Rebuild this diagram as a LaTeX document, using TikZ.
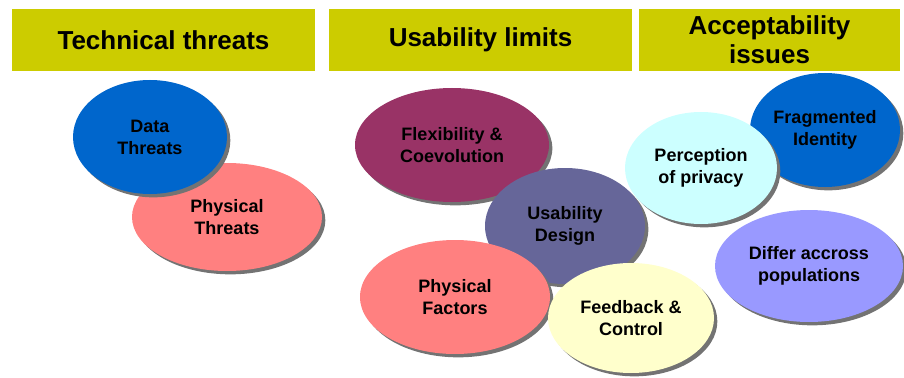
\documentclass[tikz,border=0pt]{standalone}
\usepackage{fontspec}
\setmainfont{Liberation Sans}
\usetikzlibrary{shapes.geometric,shadows}
\definecolor{barolive}{HTML}{CCCC00}
\definecolor{bblue}{HTML}{0066CC}
\definecolor{bsalmon}{HTML}{FF8080}
\definecolor{bplum}{HTML}{993366}
\definecolor{bslate}{HTML}{666699}
\definecolor{bcream}{HTML}{FFFFCC}
\definecolor{bcyan}{HTML}{CCFFFF}
\definecolor{blilac}{HTML}{9999FF}
\tikzset{bub/.style 2 args={minimum width=#1*0.75pt, minimum height=#2*0.75pt}}

\begin{document}
\begin{tikzpicture}[x=0.75pt,y=-0.75pt]
\useasboundingbox (0,0) rectangle (904,378);
 % header bars
 \begin{scope}[every node/.style={fill=barolive,inner sep=0pt,align=center,minimum height=46.5pt,font=\bfseries\fontsize{19.5}{22}\selectfont}]
    \node (h1) [minimum width=227.25pt] at (163.5,40) {Technical threats};
    \node (h2) [minimum width=227.25pt] at (480.5,40) {Usability limits};
    \node (h3) [minimum width=195.75pt] at (769.5,40) {Acceptability\\issues};
 \end{scope}
 % bubbles
 \begin{scope}[every node/.style={ellipse,inner sep=0pt,align=center,font=\bfseries\fontsize{13.5}{16.5}\selectfont,
     drop shadow={shadow xshift=2.5pt,shadow yshift=-2.5pt,fill=black!55,opacity=1}}]
    \node (t2) [fill=bsalmon,bub={190}{108}] at (227,217) {Physical\\Threats};
    \node (t1) [fill=bblue,bub={154}{114}] at (150,137) {Data\\Threats};

    \node (u1) [fill=bplum,bub={194}{114}] at (452,145) {Flexibility \&\\Coevolution};
    \node (u2) [fill=bslate,bub={160}{116}] at (565,226) {Usability\\Design};
    \node (u3) [fill=bsalmon,bub={190}{114}] at (455,297) {Physical\\Factors};
    \node (u4) [fill=bcream,bub={166}{110}] at (631,318) {Feedback \&\\Control};

    \node (a2) [fill=bblue,bub={150}{114}] at (825,130) {Fragmented\\Identity};
    \node (a1) [fill=bcyan,bub={152}{112}] at (701,168) {Perception\\of privacy};
    \node (a3) [fill=blilac,bub={188}{112}] at (809,266) {Differ accross\\populations};
 \end{scope}
\end{tikzpicture}
\end{document}
